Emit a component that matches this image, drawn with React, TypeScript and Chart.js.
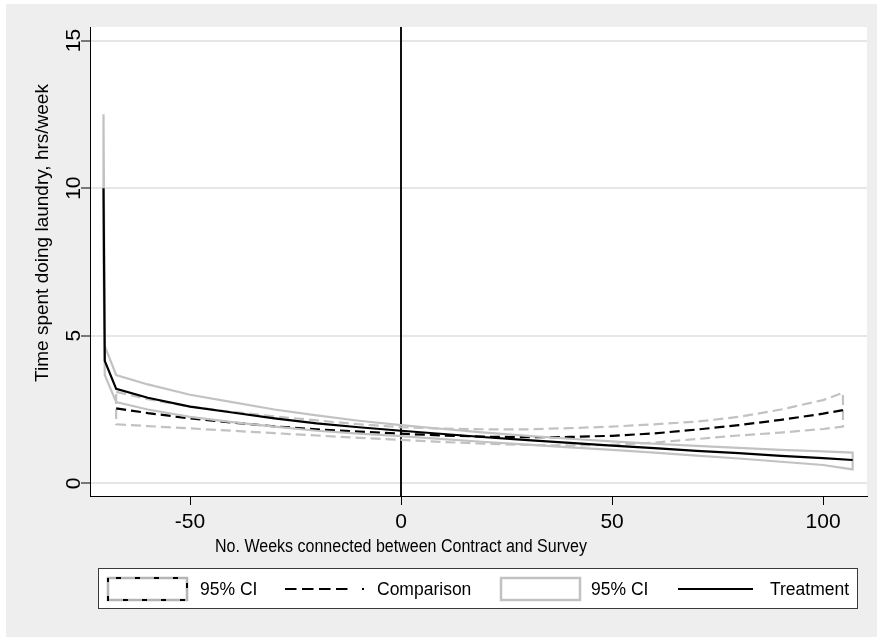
import React, { useEffect, useRef } from "react";
import { Chart, registerables } from "chart.js";

Chart.register(...registerables);

// Weeks at which the fitted curves are evaluated
const WEEKS_TREATMENT = [-70.5, -70.2, -67.5, -60, -50, -40, -30, -20, -10, 0, 10, 20, 30, 40, 50, 60, 70, 80, 90, 100, 107];
const TREATMENT = [10.0, 4.15, 3.2, 2.9, 2.6, 2.4, 2.2, 2.03, 1.9, 1.78, 1.67, 1.56, 1.46, 1.37, 1.28, 1.19, 1.1, 1.02, 0.93, 0.85, 0.79];
const TREATMENT_CI_UPPER = [12.5, 4.65, 3.67, 3.35, 3.0, 2.75, 2.5, 2.3, 2.12, 1.97, 1.84, 1.72, 1.61, 1.51, 1.42, 1.34, 1.27, 1.2, 1.13, 1.08, 1.04];
const TREATMENT_CI_LOWER = [7.5, 3.67, 2.75, 2.5, 2.25, 2.07, 1.92, 1.78, 1.68, 1.6, 1.5, 1.4, 1.31, 1.22, 1.13, 1.04, 0.94, 0.84, 0.73, 0.62, 0.47];

const WEEKS_COMPARISON = [-67.5, -60, -50, -40, -30, -20, -10, 0, 10, 20, 30, 40, 50, 60, 70, 80, 90, 100, 104.7];
const COMPARISON = [2.54, 2.38, 2.2, 2.06, 1.93, 1.83, 1.75, 1.68, 1.62, 1.58, 1.56, 1.57, 1.61, 1.69, 1.82, 1.97, 2.15, 2.36, 2.48];
const COMPARISON_CI_UPPER = [3.1, 2.85, 2.6, 2.42, 2.27, 2.13, 2.0, 1.9, 1.85, 1.83, 1.83, 1.87, 1.92, 2.0, 2.09, 2.25, 2.5, 2.82, 3.07];
const COMPARISON_CI_LOWER = [2.0, 1.94, 1.86, 1.78, 1.7, 1.62, 1.54, 1.47, 1.4, 1.34, 1.3, 1.28, 1.3, 1.38, 1.5, 1.62, 1.72, 1.84, 1.92];

const X_TICKS = [-50, 0, 50, 100];
const Y_TICKS = [0, 5, 10, 15];
const X_MIN = -73.7;
const X_MAX = 110.4;
const Y_MIN = -0.43;
const Y_MAX = 15.46;
const CONNECTION_WEEK = 0;

const X_TITLE = "No. Weeks connected between Contract and Survey";
const Y_TITLE = "Time spent doing laundry, hrs/week";

const FONT = '"Liberation Sans", Arial, Helvetica, sans-serif';
const GRAY = "#c2c2c2";

type Pt = { x: number; y: number };

const toPoints = (xs: number[], ys: number[]): Pt[] => xs.map((x, i) => ({ x, y: ys[i] }));

// Closed outline of a confidence band: upper edge forward, lower edge back
const bandOutline = (xs: number[], upper: number[], lower: number[]): Pt[] => {
  const top = toPoints(xs, upper);
  const bottom = toPoints(xs, lower).reverse();
  return [...top, ...bottom, top[0]];
};

const stataLook = {
  id: "stataLook",
  beforeDraw(chart: any) {
    const { ctx, chartArea: a } = chart;
    ctx.save();
    ctx.fillStyle = "#ffffff";
    ctx.fillRect(a.left, a.top, a.right - a.left, a.bottom - a.top);
    ctx.restore();
  },
  beforeDatasetsDraw(chart: any) {
    const { ctx, chartArea: a } = chart;
    const x = Math.round(chart.scales.x.getPixelForValue(CONNECTION_WEEK));
    ctx.save();
    ctx.strokeStyle = "#111";
    ctx.lineWidth = 2;
    ctx.beginPath();
    ctx.moveTo(x, a.top);
    ctx.lineTo(x, a.bottom);
    ctx.stroke();
    ctx.restore();
  },
  afterDraw(chart: any) {
    const { ctx } = chart;
    const ys = chart.scales.y;
    ctx.save();
    ctx.fillStyle = "#000";
    ctx.font = `21px ${FONT}`;
    ctx.textAlign = "center";
    ctx.textBaseline = "alphabetic";
    for (const t of ys.ticks) {
      const py = ys.getPixelForValue(t.value);
      ctx.save();
      ctx.translate(ys.right - 10, py);
      ctx.rotate(-Math.PI / 2);
      ctx.fillText(String(t.value), 0, 0);
      ctx.restore();
    }
    // axis titles
    ctx.textBaseline = "middle";
    ctx.font = `19px ${FONT}`;
    ctx.save();
    ctx.translate(43, 233);
    ctx.rotate(-Math.PI / 2);
    ctx.fillText(Y_TITLE, 0, 0);
    ctx.restore();
    ctx.font = `18px ${FONT}`;
    ctx.save();
    ctx.translate(401, 547);
    ctx.scale(0.89, 1);
    ctx.fillText(X_TITLE, 0, 0);
    ctx.restore();
    ctx.restore();
  },
};

function Legend() {
  const text: React.CSSProperties = {
    position: "absolute",
    top: 0,
    height: 41,
    lineHeight: "41px",
    fontFamily: FONT,
    fontSize: 17.5,
    color: "#000",
    whiteSpace: "nowrap",
  };
  return (
    <div
      style={{
        position: "absolute",
        left: 98,
        top: 568,
        width: 758,
        height: 39,
        border: "1px solid #3a3a3a",
        background: "#fff",
      }}
    >
      <svg style={{ position: "absolute", left: 0, top: 0 }} width={758} height={39}>
        <rect x={9} y={9} width={79} height={22} fill="#fff" stroke="#b5b5b5" strokeWidth={2.5} />
        <rect x={9} y={9} width={79} height={22} fill="none" stroke="#000" strokeWidth={2} strokeDasharray="5 14" strokeDashoffset={-8} />
        <line x1={186} y1={20} x2={266} y2={20} stroke="#000" strokeWidth={2} strokeDasharray="11.5 5.5 11.5 5.5 11.5 5.5 11.5 14.5 2 40" />
        <rect x={402} y={9} width={79} height={22} fill="#fff" stroke="#c2c2c2" strokeWidth={2.5} />
        <line x1={579} y1={20} x2={654} y2={20} stroke="#000" strokeWidth={2} />
      </svg>
      <span style={{ ...text, left: 101 }}>95% CI</span>
      <span style={{ ...text, left: 278 }}>Comparison</span>
      <span style={{ ...text, left: 492 }}>95% CI</span>
      <span style={{ ...text, left: 671 }}>Treatment</span>
    </div>
  );
}

export default function App() {
  const canvasRef = useRef<HTMLCanvasElement | null>(null);

  useEffect(() => {
    const canvas = canvasRef.current;
    if (!canvas) return;
    const chart = new Chart(canvas, {
      type: "line",
      data: {
        datasets: [
          {
            label: "Treatment",
            data: toPoints(WEEKS_TREATMENT, TREATMENT),
            borderColor: "#000",
            borderWidth: 2.2,
            pointRadius: 0,
            fill: false,
            tension: 0,
            order: 0,
          },
          {
            label: "95% CI",
            data: bandOutline(WEEKS_TREATMENT, TREATMENT_CI_UPPER, TREATMENT_CI_LOWER),
            borderColor: GRAY,
            borderWidth: 2.2,
            pointRadius: 0,
            fill: false,
            tension: 0,
            order: 1,
          },
          {
            label: "Comparison",
            data: toPoints(WEEKS_COMPARISON, COMPARISON),
            borderColor: "#000",
            borderWidth: 2.2,
            borderDash: [10, 5],
            pointRadius: 0,
            fill: false,
            tension: 0,
            order: 2,
          },
          {
            label: "95% CI",
            data: bandOutline(WEEKS_COMPARISON, COMPARISON_CI_UPPER, COMPARISON_CI_LOWER),
            borderColor: GRAY,
            borderWidth: 2.2,
            borderDash: [10, 5],
            pointRadius: 0,
            fill: false,
            tension: 0,
            order: 3,
          },
        ],
      },
      options: {
        responsive: false,
        animation: false,
        parsing: true,
        layout: { padding: { left: 0, right: 10, top: 27, bottom: 101 } },
        plugins: { legend: { display: false }, tooltip: { enabled: false } },
        scales: {
          x: {
            type: "linear",
            min: X_MIN,
            max: X_MAX,
            afterBuildTicks: (s: any) => {
              s.ticks = X_TICKS.map((value) => ({ value }));
            },
            afterFit: (s: any) => {
              s.height = 40;
            },
            grid: {
              display: true,
              drawOnChartArea: false,
              drawTicks: true,
              tickLength: 9,
              tickColor: "#000",
              tickWidth: 1,
            },
            border: { display: true, color: "#000", width: 1 },
            ticks: {
              color: "#000",
              font: { family: FONT, size: 21 },
              padding: 5,
              maxRotation: 0,
              autoSkip: false,
              callback: (v: any) => String(v),
            },
          },
          y: {
            type: "linear",
            min: Y_MIN,
            max: Y_MAX,
            afterBuildTicks: (s: any) => {
              s.ticks = Y_TICKS.map((value) => ({ value }));
            },
            afterFit: (s: any) => {
              s.width = 90;
            },
            grid: {
              color: "#e6e6e6",
              lineWidth: 2,
              drawOnChartArea: true,
              drawTicks: true,
              tickLength: 9,
              tickColor: "#000",
              tickWidth: 1,
            },
            border: { display: true, color: "#000", width: 1 },
            ticks: { display: false },
          },
        },
      },
      plugins: [stataLook],
    } as any);
    return () => chart.destroy();
  }, []);

  return (
    <div style={{ position: "absolute", left: 0, top: 0, width: 877, height: 637, background: "#fff" }}>
      <div style={{ position: "absolute", left: 6, top: 4, width: 871, height: 633, background: "#eeeeee" }} />
      <canvas ref={canvasRef} width={877} height={637} style={{ position: "absolute", left: 0, top: 0 }} />
      <Legend />
    </div>
  );
}
